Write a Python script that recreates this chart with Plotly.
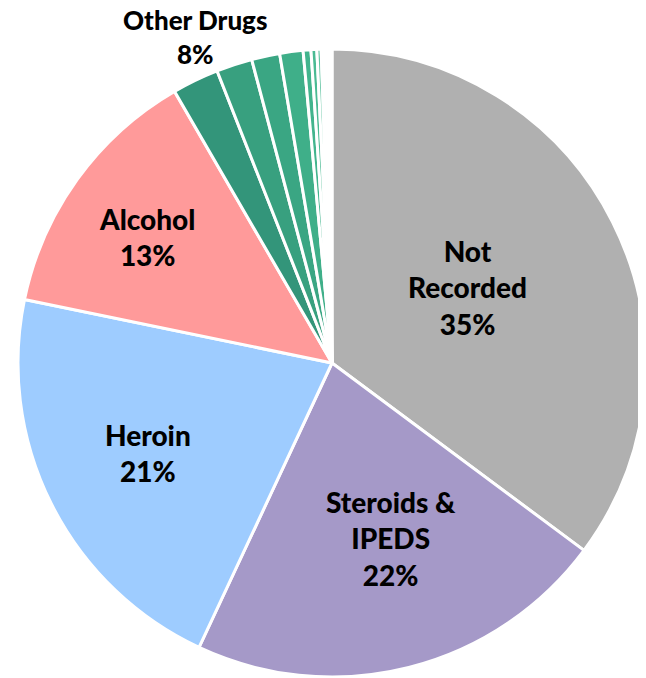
import plotly.graph_objects as go

# ---- data ----
categories = ["Not Recorded", "Steroids & IPEDS", "Heroin", "Alcohol",
              "Other drug 1", "Other drug 2", "Other drug 3", "Other drug 4",
              "Other drug 5", "Other drug 6", "Other drug 7", "Other drug 8",
              "Other drug 9", "Other drug 10", "Other drug 11", "Other drug 12"]
values = [35.2, 21.8, 21.3, 13.4,
          2.4, 1.85, 1.45, 1.2, 0.4, 0.3, 0.22, 0.15, 0.1, 0.1, 0.1, 0.1]
colors = ["#B0B0B0", "#A599C8", "#9ECCFF", "#FF9A9A",
          "#33957A", "#38A07F", "#3AA683", "#3FAF89", "#42B48D",
          "#4ABA93", "#5FC3A0", "#86D3B8", "#B5E5D3", "#E0F4EC",
          "#F4FBF8", "#FFFFFF"]
main_labels = ["Not<br>Recorded", "Steroids &<br>IPEDS", "Heroin", "Alcohol"]
other_label = "Other Drugs"

# page has an 8px body margin; figure sized so it ends at the window edge
OFF = 8
W, H = 646 - OFF, 678 - OFF
L, R, T, B = 10, 0, 40, 0

fig = go.Figure(go.Pie(
    labels=categories,
    values=values,
    sort=False,
    direction="clockwise",
    rotation=0,
    marker=dict(colors=colors, line=dict(color="white", width=3)),
    textinfo="none",
    hoverinfo="label+percent",
    showlegend=False,
))

total = sum(values)
pcts = [round(v / total * 100) for v in values[:4]]
other_pct = round(sum(values[4:]) / total * 100)

# label centre positions in page pixels (layout)
label_px = [(467, 287), (391, 538), (148, 453), (147, 237)]
font = dict(family="Lato, sans-serif", size=28, color="black", weight=900)

def to_paper(px, py):
    px -= OFF
    py -= OFF
    return (px - L) / (W - L - R), (H - B - py) / (H - T - B)

annotations = []
for (px, py), lab, p in zip(label_px, main_labels, pcts):
    x, y = to_paper(px, py)
    annotations.append(dict(x=x, y=y, xref="paper", yref="paper",
                            text=f"{lab}<br>{p}%", showarrow=False,
                            xanchor="center", yanchor="middle", font=font))
x, y = to_paper(195, 37)
annotations.append(dict(x=x, y=y, xref="paper", yref="paper",
                        text=f"{other_label}<br>{other_pct}%", showarrow=False,
                        xanchor="center", yanchor="middle",
                        font=dict(family="Lato, sans-serif", size=26,
                                  color="black", weight=900)))

fig.update_layout(
    width=W, height=H,
    margin=dict(l=L, r=R, t=T, b=B),
    paper_bgcolor="white", plot_bgcolor="white",
    annotations=annotations,
)

fig.write_html("out.html")
